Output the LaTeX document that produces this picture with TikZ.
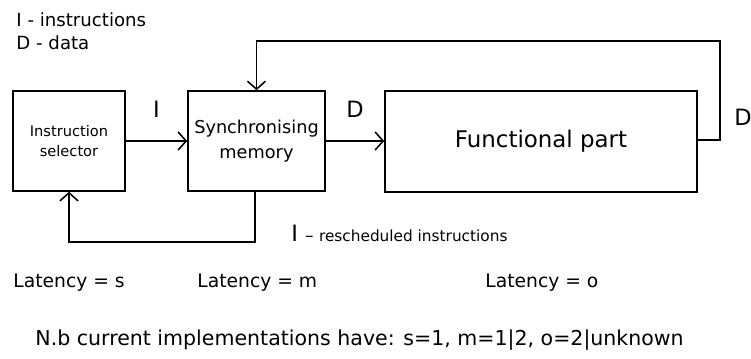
\documentclass[tikz,border=0pt]{standalone}
\usepackage{xcolor}
\usepackage{fontspec}
\setmainfont{DejaVu Sans}
\usetikzlibrary{arrows.meta}

\begin{document}
\begin{tikzpicture}[x=0.025cm, y=-0.025cm, line width=1.1pt,
    bloque/.style={draw, line width=1.1pt, inner sep=0pt, align=center},
    flecha/.style={-{Straight Barb[length=2mm, width=4.5mm, line width=1.1pt]}},
    letra/.style={font=\fontsize{16}{18}\selectfont}]
      \useasboundingbox (0,0) rectangle (751,358);

      % Leyenda
      \node[anchor=west, font=\fontsize{12.9}{14}\selectfont] (leyi) at (11,20) {I - instructions};
      \node[anchor=west, font=\fontsize{12.9}{14}\selectfont] (leyd) at (11,43) {D - data};

      % Bloques principales
      \node[bloque, minimum width=2.8cm, minimum height=2.5cm, font=\fontsize{10.4}{14}\selectfont] (selector) at (69,141) {Instruction\\ selector};
      \node[bloque, minimum width=3.425cm, minimum height=2.5cm, font=\fontsize{12.6}{17.5}\selectfont] (memoria) at (256.5,141) {Synchronising\\ memory};
      \node[bloque, minimum width=7.8cm, minimum height=2.525cm, font=\fontsize{16.3}{19}\selectfont] (funcional) at (541,141.5) {Functional part};

      % Puntos de paso
      \coordinate (dsal) at (720,140);
      \coordinate (darr) at (720,41);
      \coordinate (iabj) at (255,242);

      % Flujo principal
      \draw[flecha] (selector.east |- 0,141) -- node[above=13pt, letra] {I} (memoria.west |- 0,141);
      \draw[flecha] (memoria.east |- 0,141) -- node[above=13pt, letra] {D} (funcional.west |- 0,141);

      % Flujo de retorno
      \draw[flecha] (funcional.east |- dsal) -- (dsal) -- (darr) -- (darr -| memoria) -- (memoria.north);
      \draw[flecha] (memoria.south -| iabj) -- (iabj) -- (iabj -| selector) -- (selector.south);
      \node[anchor=west, letra] (dlbl) at (729,117) {D};
      \node[anchor=west] (resc) at (286,233) {\fontsize{16}{18}\selectfont I \fontsize{12}{14}\selectfont -- \fontsize{10.9}{13}\selectfont rescheduled instructions};

      % Latencias
      \node[anchor=west, font=\fontsize{13.3}{15}\selectfont] (lats) at (8,283) {Latency = s};
      \node[anchor=west, font=\fontsize{13.3}{15}\selectfont] (latm) at (192,283) {Latency = m};
      \node[anchor=west, font=\fontsize{13.3}{15}\selectfont] (lato) at (480,283) {Latency = o};
      \node[anchor=west, font=\fontsize{14.6}{18}\selectfont] (nota) at (30,340) {N.b current implementations have: s=1, m=1|2, o=2|unknown};
\end{tikzpicture}
\end{document}
